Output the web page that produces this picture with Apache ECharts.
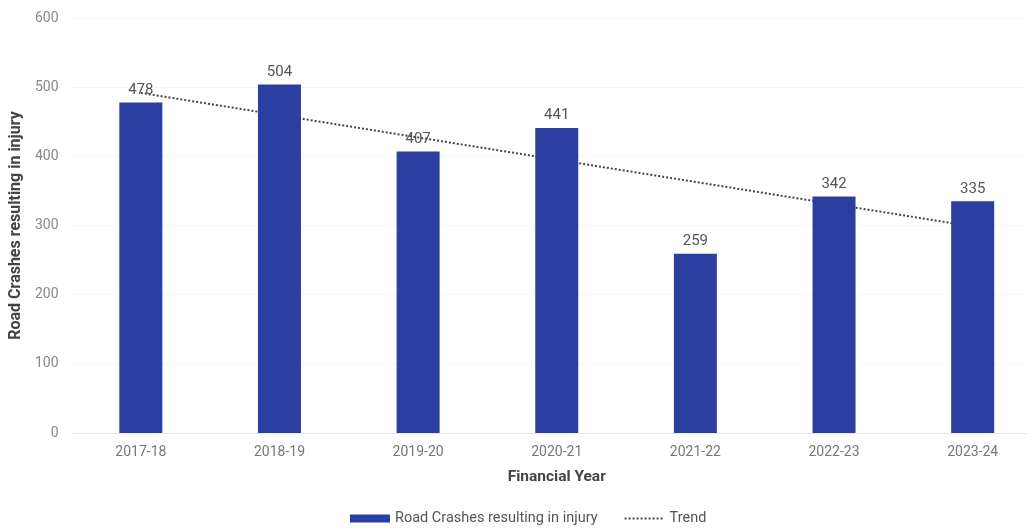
<!DOCTYPE html>
<html><head><meta charset="utf-8">
<script src="https://cdn.jsdelivr.net/npm/echarts@6/dist/echarts.min.js"></script>
<style>html,body{margin:0;padding:0;background:#fff;overflow:hidden;width:1027px;height:528px}#c{width:1042px;height:528px}</style>
</head><body><div id="c"></div>
<script>
const categories = ['2017-18','2018-19','2019-20','2020-21','2021-22','2022-23','2023-24'];
const injuryCrashes = [478, 504, 407, 441, 259, 342, 335];
const trendValues = [491.7, 459.5, 427.3, 395.1, 363.0, 330.8, 298.6];
const yTicks = [0, 100, 200, 300, 400, 500, 600];

const chart = echarts.init(document.getElementById('c'), null, {renderer:'canvas'});
chart.setOption({
  animation:false,
  backgroundColor:'#fff',
  textStyle:{fontFamily:'Roboto'},
  grid:{left:67, top:18, right:0, height:415, containLabel:false},
  legend:{
    bottom:-3, left:345, itemGap:26,
    textStyle:{color:'#555', fontSize:14.5, fontFamily:'Roboto'},
    data:[
      {name:'Road Crashes resulting in injury', icon:'rect', itemStyle:{color:'#2B3FA0'}},
      {name:'Trend', itemStyle:{opacity:0}}
    ],
    itemWidth:40, itemHeight:8
  },
  xAxis:{
    type:'category', data:categories,
    name:'Financial Year', nameLocation:'middle', nameGap:36,
    nameTextStyle:{fontWeight:'bold', fontSize:15.5, color:'#444'},
    axisLine:{show:true, lineStyle:{color:'#e6e6e6'}},
    axisTick:{show:false},
    axisLabel:{color:'#777', fontSize:14, margin:12}
  },
  yAxis:{
    type:'value', min:0, max:600, interval:100,
    name:'Road Crashes resulting in injury', nameLocation:'middle', nameGap:45,
    nameTextStyle:{fontWeight:'bold', fontSize:16, color:'#444'},
    axisLine:{show:false}, axisTick:{show:false},
    axisLabel:{color:'#888', fontSize:14, margin:13,
      formatter:v=>yTicks.includes(v)?String(v):''},
    splitLine:{show:true, lineStyle:{color:'#f7f7f7'}}
  },
  series:[
    {
      name:'Road Crashes resulting in injury', type:'bar', data:injuryCrashes,
      barWidth:43, z:3,
      itemStyle:{color:'#2B3FA0'},
      label:{show:true, position:'top', distance:5, color:'#555', fontSize:15}
    },
    {
      name:'Trend', type:'line', data:trendValues, z:2,
      symbol:'none', silent:true,
      lineStyle:{type:'dotted', color:'#444', width:2},
      itemStyle:{color:'#444'}
    }
  ]
});
</script></body></html>
